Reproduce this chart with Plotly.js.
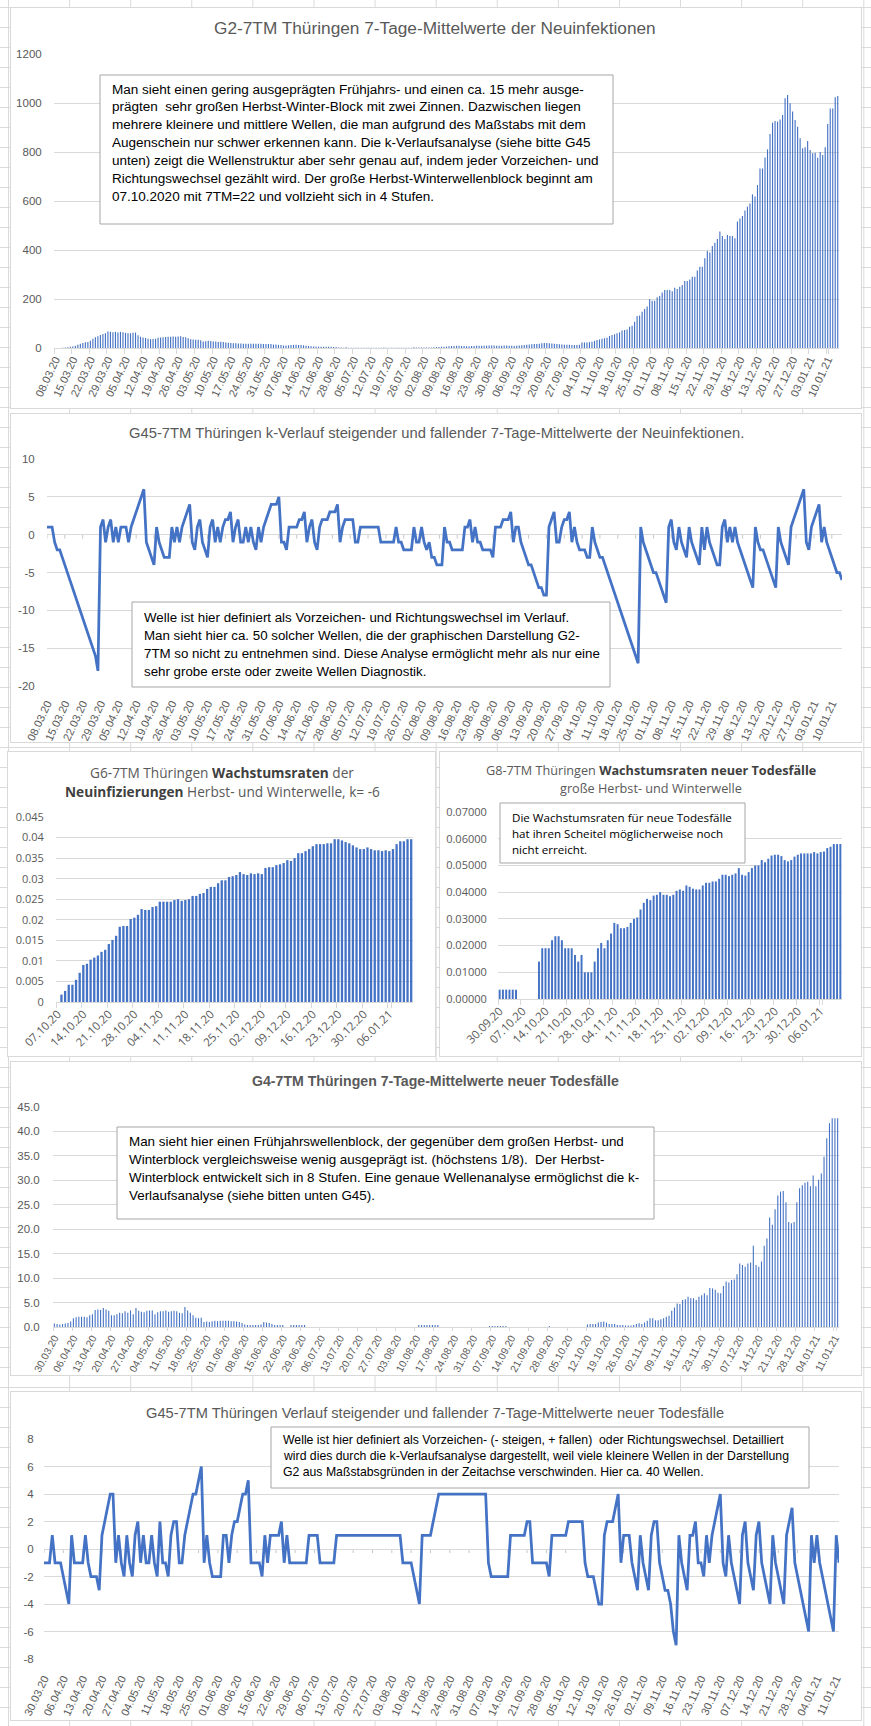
<!DOCTYPE html>
<html><head><meta charset="utf-8">
<script src="https://cdn.plot.ly/plotly-3.0.1.min.js"></script>
<style>
html,body{margin:0;padding:0;}
body{width:871px;height:1726px;position:relative;overflow:hidden;background-color:#fff;
background-image:linear-gradient(to right,#dadada 1px,transparent 1px),linear-gradient(to bottom,#dadada 1px,transparent 1px);
background-size:61.1px 20px;background-position:8px 7px;}
.panel{position:absolute;background:#fff;outline:1px solid #d9d9d9;outline-offset:-1px;overflow:hidden;}
</style></head><body>
<script>
// ---------------- DATA ----------------
// G2: 7-Tage-Mittelwerte Neuinfektionen, täglich ab 08.03.20
const g2Start = [2020, 3, 8];
const g2Values = [
0,0,0,1,2,3,5,6,9,13,
17,20,23,25,30,38,44,48,53,57,
60,67,66,64,66,63,66,64,62,60,
60,62,63,52,46,43,41,38,36,37,
38,42,43,44,45,46,46,47,46,47,
48,45,44,40,36,35,34,34,32,27,
28,30,29,27,27,25,26,24,22,21,
20,19,19,18,18,17,17,17,17,17,
17,17,17,16,16,16,16,14,14,13,
12,10,10,11,12,13,13,12,12,11,
9,8,7,6,6,5,5,5,5,5,
5,4,4,2,2,1,3,1,1,1,
1,1,1,1,1,1,1,1,1,1,
1,2,1,1,1,1,1,1,1,1,
1,1,1,3,2,2,2,2,2,2,
2,3,4,4,5,5,6,7,8,8,
9,9,8,8,7,7,8,8,9,9,
9,9,9,10,10,10,9,9,9,10,
10,9,9,8,9,10,11,12,13,14,
15,16,16,17,19,20,20,19,18,17,
16,15,14,13,13,13,12,12,12,13,
22,22,22,24,26,29,33,35,38,40,
42,49,53,56,60,64,71,73,76,87,
91,107,131,133,148,159,169,199,193,193,
207,212,227,237,237,237,232,246,241,250,
257,273,273,280,291,291,316,332,332,366,
396,390,416,430,445,476,457,445,461,457,
457,448,516,529,539,561,577,590,627,618,
665,733,733,778,811,873,920,927,924,933,
951,1019,1033,999,965,931,903,856,815,819,
845,808,795,797,777,800,788,819,914,978,
978,1023,1029];
const g2Ticks = ['08.03.20','15.03.20','22.03.20','29.03.20','05.04.20','12.04.20','19.04.20','26.04.20','03.05.20','10.05.20','17.05.20','24.05.20','31.05.20','07.06.20','14.06.20','21.06.20','28.06.20','05.07.20','12.07.20','19.07.20','26.07.20','02.08.20','09.08.20','16.08.20','23.08.20','30.08.20','06.09.20','13.09.20','20.09.20','27.09.20','04.10.20','11.10.20','18.10.20','25.10.20','01.11.20','08.11.20','15.11.20','22.11.20','29.11.20','06.12.20','13.12.20','20.12.20','27.12.20','03.01.21','10.01.21'];
const g2YTicks = [0,200,400,600,800,1000,1200];

// G45: k-Verlauf Neuinfektionen, täglich ab 08.03.20
const kInfValues = [
1,1,1,-1,-2,-2,-3,-4,-5,-6,
-7,-8,-9,-10,-11,-12,-13,-14,-15,-16,
-18,1,2,-1,1,2,-1,1,-1,1,
1,1,-1,1,2,3,4,5,6,-1,
-2,-3,-4,1,-1,-2,-3,-3,-3,1,
-1,1,-1,1,2,3,4,-1,-2,1,
2,-1,-2,-3,1,2,-1,1,-1,1,
2,2,3,-1,1,2,-1,-1,1,-1,
1,-1,-2,1,-1,1,2,3,4,4,
4,5,-1,-1,-2,1,1,1,1,2,
2,3,-1,1,2,-1,-2,1,2,2,
2,3,3,3,4,-1,1,2,2,2,
2,-1,-1,1,1,1,1,1,1,1,
1,-1,-1,-1,-1,-1,-1,1,-1,-1,
-2,-2,-2,-2,1,-1,-1,1,-1,-2,
-1,-3,-3,-4,-4,-4,1,-1,-1,-2,
-2,-2,-2,-2,1,1,2,-1,1,-1,
-1,-2,-2,-2,-2,-3,1,1,1,2,
2,2,3,-1,1,1,-1,-2,-3,-4,
-4,-5,-6,-7,-7,-8,-8,1,2,3,
-1,-1,1,2,2,3,-1,1,-1,-2,
-2,-2,-3,-3,1,-1,-2,-3,-3,-4,
-5,-6,-7,-8,-9,-10,-11,-12,-13,-14,
-15,-16,-17,1,-1,-2,-3,-4,-5,-5,
-6,-7,-8,-9,1,2,-1,-2,1,-1,
-2,-3,1,-1,-2,-3,-4,1,-2,1,
-1,-2,-3,-4,-4,1,2,-1,1,-1,
1,-1,-2,-3,-4,-5,-6,-7,1,-1,
-2,-2,-3,-4,-5,-6,-7,1,-1,-2,
-3,-4,1,2,3,4,5,6,-1,-2,
1,2,3,4,-1,1,-1,-2,-3,-4,
-5,-5,-6];
const kInfYTicks = [-20,-15,-10,-5,0,5,10];

// G6: Wachstumsraten Neuinfizierungen ab 07.10.20
const g6Start = [2020, 10, 7];
const g6Values = [null,
0.0018,0.0027,0.0042,0.0042,0.0054,0.0071,0.0090,0.0093,0.0103,0.0108,
0.0113,0.0122,0.0127,0.0141,0.0151,0.0161,0.0183,0.0185,0.0185,0.0202,
0.0205,0.0212,0.0226,0.0224,0.0224,0.0231,0.0233,0.0244,0.0244,0.0244,
0.0244,0.0248,0.0250,0.0246,0.0248,0.0250,0.0258,0.0258,0.0263,0.0265,
0.0275,0.0280,0.0280,0.0289,0.0296,0.0296,0.0304,0.0306,0.0309,0.0316,
0.0311,0.0309,0.0313,0.0311,0.0313,0.0311,0.0326,0.0328,0.0328,0.0333,
0.0335,0.0338,0.0345,0.0343,0.0350,0.0362,0.0362,0.0367,0.0372,0.0379,
0.0384,0.0384,0.0384,0.0386,0.0386,0.0396,0.0396,0.0393,0.0389,0.0386,
0.0381,0.0376,0.0372,0.0372,0.0376,0.0372,0.0369,0.0369,0.0367,0.0369,
0.0367,0.0372,0.0384,0.0391,0.0391,0.0396,0.0396];
const g6Ticks = ['07.10.20','14.10.20','21.10.20','28.10.20','04.11.20','11.11.20','18.11.20','25.11.20','02.12.20','09.12.20','16.12.20','23.12.20','30.12.20','06.01.21'];
const g6YTicks = [0,0.005,0.01,0.015,0.02,0.025,0.03,0.035,0.04,0.045];
const g6YText = ['0','0.005','0.01','0.015','0.02','0.025','0.03','0.035','0.04','0.045'];

// G8: Wachstumsraten neuer Todesfälle ab 30.09.20
const g8Start = [2020, 9, 30];
const g8Values = [
0.0035,0.0035,0.0035,0.0035,0.0035,0.0035,null,null,null,null,null,null,
0.014,0.019,0.019,0.019,0.022,0.0235,0.0235,0.022,0.019,0.019,
0.019,0.0165,0.014,0.0165,0.010,0.010,0.010,0.014,0.019,0.021,
0.019,0.022,0.0245,0.0285,0.028,0.0265,0.0265,0.027,0.0285,0.030,
0.0305,0.0335,0.036,0.0375,0.037,0.0387,0.039,0.040,0.039,0.039,
0.0385,0.039,0.0405,0.041,0.0405,0.0425,0.042,0.0413,0.041,0.041,
0.0425,0.0435,0.0435,0.044,0.044,0.045,0.0465,0.0465,0.046,0.0465,
0.047,0.049,0.0465,0.0462,0.0475,0.049,0.050,0.050,0.052,0.0512,
0.0525,0.0537,0.054,0.054,0.0535,0.052,0.0515,0.052,0.0533,0.054,
0.0545,0.0545,0.0545,0.0545,0.055,0.0545,0.055,0.0552,0.0565,0.057,
0.058,0.058,0.058];
const g8Ticks = ['30.09.20','07.10.20','14.10.20','21.10.20','28.10.20','04.11.20','11.11.20','18.11.20','25.11.20','02.12.20','09.12.20','16.12.20','23.12.20','30.12.20','06.01.21'];
const g8YTicks = [0,0.01,0.02,0.03,0.04,0.05,0.06,0.07];

// G4: 7-Tage-Mittelwerte neuer Todesfälle ab 30.03.20
const g4Start = [2020, 3, 30];
const g4Values = [
0.7,0.6,0.5,0.6,0.7,0.8,1.1,1.8,2.0,2.1,
2.1,2.1,2.0,2.4,2.6,3.5,3.6,3.5,3.9,3.6,
3.3,2.4,2.4,2.6,2.9,2.8,3.2,2.9,3.4,2.6,
3.9,3.3,3.1,3.0,3.3,3.4,3.4,2.6,3.0,3.2,
3.2,3.4,3.1,3.2,3.3,3.2,2.9,2.8,4.1,3.4,
2.9,2.4,1.9,1.8,1.9,1.0,1.1,1.0,1.2,1.3,
1.2,1.3,1.3,1.3,1.3,1.2,1.2,1.1,1.0,0.8,
0.5,0.4,0.4,0.4,0.4,0.4,0.5,1.0,0.9,0.8,
0.6,0.4,0.4,0.4,0.4,0,0,0.4,0.4,0.4,
0.4,0.4,0.4,0,0,0,0,0,0,0,
0,0,0,0,0,0,0,0,0,0,
0,0,0,0,0,0,0,0,0,0,
0,0,0,0,0,0,0,0,0,0,
0,0,0,0,0.4,0.4,0.4,0.4,0.4,0.4,
0.4,0.4,0,0,0,0,0,0,0,0,
0,0,0,0,0,0,0,0,0,0,
0.2,0.2,0.2,0.2,0.2,0.2,0.2,0,0,0,
0,0,0,0,0,0,0,0,0,0,
0,0,0.2,0,0,0,0,0,0,0,
0,0,0,0,0,0,0.5,0.6,0.6,0.6,
0.9,1.0,1.1,0.9,0.6,0.6,0.6,0.4,0.4,0.4,
0.3,0.3,0.3,0.4,0.6,0.75,0.6,0.9,1.3,1.8,
1.8,1.4,1.4,1.6,1.8,2.1,2.3,3.3,4.0,4.8,
4.7,5.5,5.7,6.2,5.9,5.9,5.5,6.2,6.5,6.9,
6.5,8.0,7.9,7.6,7.0,6.9,8.4,9.3,9.1,9.6,
9.7,10.8,13.0,12.7,12.3,13.0,13.2,16.6,12.7,12.3,
13.4,16.6,18.1,22.4,20.9,24.1,26.9,27.7,27.8,25.5,
21.5,21.2,21.5,25.5,28.4,29.0,29.5,29.7,28.8,31.0,
28.8,30.1,31.4,34.8,38.6,41.7,42.7,42.7,42.7];
const g4Ticks = ['30.03.20','06.04.20','13.04.20','20.04.20','27.04.20','04.05.20','11.05.20','18.05.20','25.05.20','01.06.20','08.06.20','15.06.20','22.06.20','29.06.20','06.07.20','13.07.20','20.07.20','27.07.20','03.08.20','10.08.20','17.08.20','24.08.20','31.08.20','07.09.20','14.09.20','21.09.20','28.09.20','05.10.20','12.10.20','19.10.20','26.10.20','02.11.20','09.11.20','16.11.20','23.11.20','30.11.20','07.12.20','14.12.20','21.12.20','28.12.20','04.01.21','11.01.21'];
const g4YTicks = [0,5,10,15,20,25,30,35,40,45];

// G45: k-Verlauf neuer Todesfälle ab 30.03.20
const kDeathValues = [
-1,-1,-1,1,-1,-1,-1,-2,-3,-4,
1,-1,-1,-1,-1,1,-1,-2,-2,-2,
-3,1,2,3,4,4,-1,1,-1,-2,
1,-1,-2,1,2,-1,1,-1,-1,1,
-1,-2,2,-1,-1,-2,1,2,2,-1,
-1,1,2,3,4,4,5,6,-1,1,
-1,-2,-2,-2,-2,1,1,-1,1,2,
2,3,4,4,5,-1,-1,-1,-1,-2,
1,-1,1,1,1,1,2,-1,1,-1,
-1,-1,-1,-1,-1,-1,1,1,1,1,
-1,-1,-1,-1,-1,-1,1,1,1,1,
1,1,1,1,1,1,1,1,1,1,
1,1,1,1,1,1,1,1,1,1,
-1,-1,-1,-1,-2,-3,-4,1,1,1,
1,2,3,4,4,4,4,4,4,4,
4,4,4,4,4,4,4,4,4,4,
4,-1,-2,-2,-2,-2,-2,-2,-2,1,
1,1,1,1,1,2,2,-1,-1,-1,
-1,-1,-1,-2,1,1,1,1,1,1,
2,2,2,2,2,2,-1,-2,-2,-2,
-3,-4,-4,1,2,2,2,3,4,-1,
1,1,1,-1,-2,-3,1,-1,-2,-3,
1,2,2,-1,-2,-3,-3,-4,-6,-7,
1,-1,-2,-3,1,1,2,-1,-1,-2,
1,-1,1,2,3,4,-1,-2,1,-1,
-2,-3,-4,1,2,-1,-2,-3,1,2,
-1,-2,-3,-4,1,-1,-2,-3,-4,1,
2,3,-1,-2,-3,-4,-5,-6,1,-1,
1,-1,-2,-3,-4,-5,-6,1,-1];
const kDeathYTicks = [-8,-6,-4,-2,0,2,4,6,8];

// ---------------- TEXTS ----------------
const t1Title = 'G2-7TM Thüringen 7-Tage-Mittelwerte der Neuinfektionen';
const t1Lines = [
'Man sieht einen gering ausgeprägten Frühjahrs- und einen ca. 15 mehr ausge-',
'prägten  sehr großen Herbst-Winter-Block mit zwei Zinnen. Dazwischen liegen',
'mehrere kleinere und mittlere Wellen, die man aufgrund des Maßstabs mit dem',
'Augenschein nur schwer erkennen kann. Die k-Verlaufsanalyse (siehe bitte G45',
'unten) zeigt die Wellenstruktur aber sehr genau auf, indem jeder Vorzeichen- und',
'Richtungswechsel gezählt wird. Der große Herbst-Winterwellenblock beginnt am',
'07.10.2020 mit 7TM=22 und vollzieht sich in 4 Stufen.'];
const t2Title = 'G45-7TM Thüringen k-Verlauf steigender und fallender 7-Tage-Mittelwerte der Neuinfektionen.';
const t2Lines = [
'Welle ist hier definiert als Vorzeichen- und Richtungswechsel im Verlauf.',
'Man sieht hier ca. 50 solcher Wellen, die der graphischen Darstellung G2-',
'7TM so nicht zu entnehmen sind. Diese Analyse ermöglicht mehr als nur eine',
'sehr grobe erste oder zweite Wellen Diagnostik.'];
const t3Title1 = [['G6-7TM Thüringen ',0],['Wachstumsraten',1],[' der',0]];
const t3Title2 = [['Neuinfizierungen',1],[' Herbst- und Winterwelle, k= -6',0]];
const t4Title1 = [['G8-7TM Thüringen ',0],['Wachstumsraten neuer Todesfälle',1]];
const t4Title2 = [['große Herbst- und Winterwelle',0]];
const t4Lines = ['Die Wachstumsraten für neue Todesfälle','hat ihren Scheitel möglicherweise noch','nicht erreicht.'];
const t5Title = 'G4-7TM Thüringen 7-Tage-Mittelwerte neuer Todesfälle';
const t5Lines = [
'Man sieht hier einen Frühjahrswellenblock, der gegenüber dem großen Herbst- und',
'Winterblock vergleichsweise wenig ausgeprägt ist. (höchstens 1/8).  Der Herbst-',
'Winterblock entwickelt sich in 8 Stufen. Eine genaue Wellenanalyse ermöglichst die k-',
'Verlaufsanalyse (siehe bitten unten G45).'];
const t6Title = 'G45-7TM Thüringen Verlauf steigender und fallender 7-Tage-Mittelwerte neuer Todesfälle';
const t6Lines = [
'Welle ist hier definiert als Vorzeichen- (- steigen, + fallen)  oder Richtungswechsel. Detailliert',
'wird dies durch die k-Verlaufsanalyse dargestellt, weil viele kleinere Wellen in der Darstellung',
'G2 aus Maßstabsgründen in der Zeitachse verschwinden. Hier ca. 40 Wellen.'];

// ---------------- STYLE / LAYOUT ----------------
const FA = '"Liberation Sans", Arial, sans-serif';
const FB = '"Open Sans", "Noto Sans", sans-serif';
const BLUE = '#4472C4', GRID = '#D9D9D9', TXT = '#595959', DARK = '#404040';
const LW = 2.75, DATEANG = -65, DATESZ = 11;

const PANELS = {
  p1: {box:[10,7,862,409],    plot:[54,54,839,348]},
  p2: {box:[10,413,862,743],  plot:[47,459,842,686]},
  p3: {box:[7,751,436,1057],  plot:[56,817,413,1002]},
  p4: {box:[439,751,862,1057],plot:[498,812,842,999]},
  p5: {box:[10,1061,862,1376],plot:[53,1107,839,1327]},
  p6: {box:[10,1391,862,1721],plot:[44,1439,839,1659]}
};

function dayList(start, n) {
  const out = [], t0 = Date.UTC(start[0], start[1]-1, start[2]);
  for (let i = 0; i < n; i++) {
    const dt = new Date(t0 + i*86400000);
    out.push(String(dt.getUTCDate()).padStart(2,'0') + '.' + String(dt.getUTCMonth()+1).padStart(2,'0') + '.' + String(dt.getUTCFullYear()).slice(2));
  }
  return out;
}

const cv = document.createElement('canvas').getContext('2d');
function fit(segs, fam, target) {
  let w = 0;
  for (const [t, b] of segs) { cv.font = (b ? 'bold ' : '') + '100px ' + fam; w += cv.measureText(t).width; }
  return 100 * target / w;
}
function segHtml(segs, boldColor) {
  return segs.map(([t,b]) => b ? '<b><span style="color:' + boldColor + '">' + t + '</span></b>' : t).join('');
}

function base(id) {
  const P = PANELS[id];
  const [bx0,by0,bx1,by1] = P.box, [px0,py0,px1,py1] = P.plot;
  const d = document.createElement('div');
  d.id = id; d.className = 'panel';
  d.style.left = bx0 + 'px'; d.style.top = by0 + 'px';
  d.style.width = (bx1-bx0) + 'px'; d.style.height = (by1-by0) + 'px';
  document.body.appendChild(d);
  return {
    width: bx1-bx0, height: by1-by0,
    margin: {l: px0-bx0, r: bx1-px1, t: py0-by0, b: by1-py1, pad: 0},
    paper_bgcolor: 'rgba(0,0,0,0)', plot_bgcolor: '#fff', showlegend: false,
    hovermode: false, bargap: 0.5, annotations: [], shapes: []
  };
}
function PX(id, x) { const p = PANELS[id].plot; return (x - p[0]) / (p[2] - p[0]); }
function PY(id, y) { const p = PANELS[id].plot; return 1 - (y - p[1]) / (p[3] - p[1]); }
function txt(id, x, y, text, font, xanchor) {
  return {xref:'paper', yref:'paper', x: PX(id,x), y: PY(id,y), text: text, showarrow: false,
          xanchor: xanchor || 'left', yanchor: 'middle', align: 'left', font: font};
}
function boxShape(id, x0, y0, x1, y1) {
  return {type:'rect', xref:'paper', yref:'paper', x0: PX(id,x0), x1: PX(id,x1), y0: PY(id,y0), y1: PY(id,y1),
          line:{color:'#A6A6A6', width:1}, fillcolor:'#fff', layer:'above'};
}
function textBlock(L, id, lines, x, y0, dy, size, fam) {
  lines.forEach((s, k) => L.annotations.push(txt(id, x, y0 + k*dy, s, {family: fam, size: size, color: '#000'})));
}
function xCat(cats, ticks, angle, fam, size, extra) {
  return Object.assign({type:'category', categoryorder:'array', categoryarray: cats,
    tickmode:'array', tickvals: ticks, ticktext: ticks, tickangle: angle,
    showgrid:false, zeroline:false, fixedrange:true, automargin:false,
    tickfont:{family: fam, size: size, color: TXT}}, extra);
}
function yLin(range, tv, tt, fam, size, standoff, extra) {
  return Object.assign({range: range, tickmode:'array', tickvals: tv, ticktext: tt,
    showgrid:true, gridcolor: GRID, gridwidth:1, zeroline:false, showline:false, fixedrange:true, automargin:false,
    ticks:'outside', ticklen: standoff, tickcolor:'rgba(0,0,0,0)',
    tickfont:{family: fam, size: size, color: TXT}}, extra);
}
function zeroTicks(ticks) {
  return ticks.map(t => ({type:'line', xref:'x', yref:'y', x0:t, x1:t, ysizemode:'pixel', yanchor:0, y0:0, y1:-4,
                          line:{color:'#C8C8C8', width:1}, layer:'below'}));
}
const CFG = {staticPlot: true, displayModeBar: false};

// ---------- Panel 1 : G2 ----------
(function(){
  const id = 'p1', L = base(id);
  const days = dayList(g2Start, g2Values.length);
  L.xaxis = xCat(days, g2Ticks, DATEANG, FA, DATESZ, {range:[-0.5, days.length-0.5], tickson:'boundaries',
    showline:true, linecolor: GRID, ticks:'outside', ticklen:5, tickcolor: GRID});
  L.yaxis = yLin([0,1200], g2YTicks, g2YTicks.map(String), FA, 11.5, 9);
  L.bargap = 0.55;
  L.annotations.push(txt(id, 435, 28, t1Title, {family: FA, size: fit([[t1Title,0]], FA, 442), color: TXT}, 'center'));
  L.shapes.push(boxShape(id, 100, 75, 613, 224));
  textBlock(L, id, t1Lines, 110, 89, 17.9, fit([[t1Lines[4],0]], FA, 487), FA);
  Plotly.newPlot(id, [{type:'bar', x: days, y: g2Values, marker:{color: BLUE}}], L, CFG);
})();

// ---------- Panel 2 : G45 Neuinfektionen ----------
(function(){
  const id = 'p2', L = base(id);
  const days = dayList(g2Start, kInfValues.length);
  L.xaxis = xCat(days, g2Ticks, DATEANG, FA, DATESZ, {range:[0, days.length-1], showline:false,
    ticks:'outside', ticklen:6, tickcolor:'rgba(0,0,0,0)'});
  L.yaxis = yLin([-20,10], kInfYTicks, kInfYTicks.map(String), FA, 11.5, 9, {zeroline:true, zerolinecolor: GRID, zerolinewidth:1});
  L.shapes = zeroTicks(g2Ticks);
  L.annotations.push(txt(id, 436, 433, t2Title, {family: FA, size: fit([[t2Title,0]], FA, 616), color: TXT}, 'center'));
  L.shapes.push(boxShape(id, 132, 602, 610, 687));
  textBlock(L, id, t2Lines, 142, 617, 18, fit([[t2Lines[2],0]], FA, 457), FA);
  Plotly.newPlot(id, [{type:'scatter', mode:'lines', x: days, y: kInfValues, line:{color: BLUE, width: LW}, cliponaxis:false}], L, CFG);
})();

// ---------- Panel 3 : G6 ----------
(function(){
  const id = 'p3', L = base(id);
  const days = dayList(g6Start, g6Values.length);
  L.xaxis = xCat(days, g6Ticks, -45, FB, 11.5, {range:[-0.5, days.length-0.5], tickson:'boundaries',
    showline:true, linecolor: GRID, ticks:'outside', ticklen:5, tickcolor: GRID});
  L.yaxis = yLin([0,0.045], g6YTicks, g6YText, FB, 11, 9);
  L.bargap = 0.37;
  const s = (fit(t3Title1, FB, 263) + fit(t3Title2, FB, 317)) / 2;
  L.annotations.push(txt(id, 222, 772, segHtml(t3Title1, DARK), {family: FB, size: s, color: TXT}, 'center'));
  L.annotations.push(txt(id, 222, 791, segHtml(t3Title2, DARK), {family: FB, size: s, color: TXT}, 'center'));
  Plotly.newPlot(id, [{type:'bar', x: days, y: g6Values, marker:{color: BLUE}}], L, CFG);
})();

// ---------- Panel 4 : G8 ----------
(function(){
  const id = 'p4', L = base(id);
  const days = dayList(g8Start, g8Values.length);
  L.xaxis = xCat(days, g8Ticks, -45, FB, 11.5, {range:[-0.5, days.length-0.5], tickson:'boundaries',
    showline:true, linecolor: GRID, ticks:'outside', ticklen:5, tickcolor: GRID});
  L.yaxis = yLin([0,0.07], g8YTicks, g8YTicks.map(v => v.toFixed(5)), FB, 11, 8);
  L.bargap = 0.4;
  const s = (fit(t4Title1, FB, 325) + fit(t4Title2, FB, 185)) / 2;
  L.annotations.push(txt(id, 651, 770, segHtml(t4Title1, DARK), {family: FB, size: s, color: TXT}, 'center'));
  L.annotations.push(txt(id, 651, 788, segHtml(t4Title2, DARK), {family: FB, size: s, color: TXT}, 'center'));
  L.shapes.push(boxShape(id, 500, 803, 745, 863));
  textBlock(L, id, t4Lines, 510, 817, 16, fit([[t4Lines[0],0]], FB, 220), FB);
  Plotly.newPlot(id, [{type:'bar', x: days, y: g8Values, marker:{color: BLUE}}], L, CFG);
})();

// ---------- Panel 5 : G4 ----------
(function(){
  const id = 'p5', L = base(id);
  const days = dayList(g4Start, g4Values.length);
  L.xaxis = xCat(days, g4Ticks, -62, FA, 10.3, {range:[-0.5, days.length-0.5], tickson:'boundaries',
    showline:true, linecolor: GRID, ticks:'outside', ticklen:3, tickcolor: GRID});
  L.yaxis = yLin([0,45], g4YTicks, g4YTicks.map(v => v.toFixed(1)), FA, 11.5, 10);
  L.bargap = 0.6;
  L.annotations.push(txt(id, 435, 1081, '<b>' + t5Title + '</b>', {family: FA, size: fit([[t5Title,1]], FA, 367), color: TXT}, 'center'));
  L.shapes.push(boxShape(id, 117, 1127, 654, 1219));
  textBlock(L, id, t5Lines, 127, 1141, 18.3, fit([[t5Lines[2],0]], FA, 511), FA);
  Plotly.newPlot(id, [{type:'bar', x: days, y: g4Values, marker:{color: BLUE}}], L, CFG);
})();

// ---------- Panel 6 : G45 Todesfälle ----------
(function(){
  const id = 'p6', L = base(id);
  const days = dayList(g4Start, kDeathValues.length);
  L.xaxis = xCat(days, g4Ticks, DATEANG, FA, DATESZ, {range:[0, days.length-1], showline:false,
    ticks:'outside', ticklen:8, tickcolor:'rgba(0,0,0,0)'});
  L.yaxis = yLin([-8,8], kDeathYTicks, kDeathYTicks.map(String), FA, 11.5, 7, {zeroline:true, zerolinecolor: GRID, zerolinewidth:1});
  L.shapes = zeroTicks(g4Ticks);
  L.annotations.push(txt(id, 435, 1413, t6Title, {family: FA, size: fit([[t6Title,0]], FA, 579), color: TXT}, 'center'));
  L.shapes.push(boxShape(id, 271, 1427, 809, 1488));
  textBlock(L, id, t6Lines, 281, 1440, 16, fit([[t6Lines[0],0]], FA, 501), FA);
  Plotly.newPlot(id, [{type:'scatter', mode:'lines', x: days, y: kDeathValues, line:{color: BLUE, width: LW}, cliponaxis:false}], L, CFG);
})();
</script>
</body></html>
